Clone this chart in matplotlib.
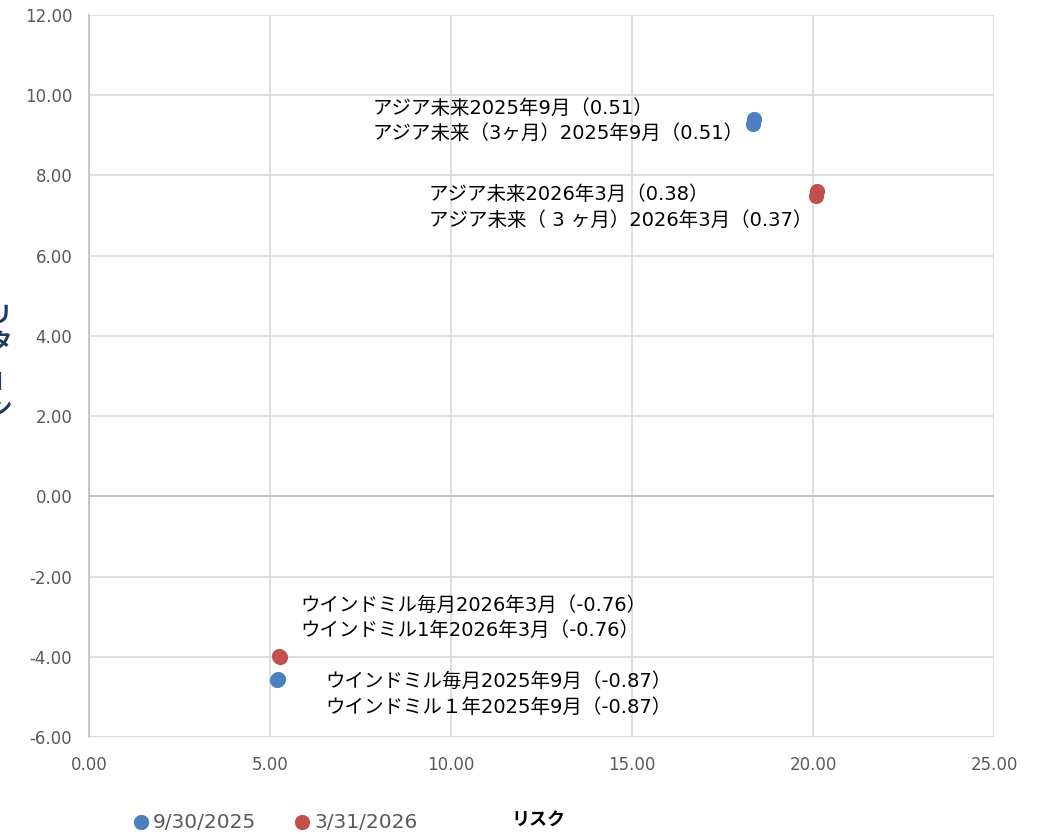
import matplotlib
matplotlib.use("Agg")
import matplotlib.pyplot as plt

plt.rcParams['font.family'] = ['DejaVu Sans', 'Noto Sans CJK JP']

# Data: (risk, return)
s1_label = "9/30/2025"
s1_risk = [18.38, 18.35, 5.20, 5.22]
s1_ret = [9.40, 9.28, -4.57, -4.55]
s2_label = "3/31/2026"
s2_risk = [20.10, 20.08, 5.25, 5.27]
s2_ret = [7.60, 7.50, -3.98, -4.00]

annot_texts = [
    "アジア未来2025年9月（0.51）\nアジア未来（3ヶ月）2025年9月（0.51）",
    "アジア未来2026年3月（0.38）\nアジア未来（ 3 ヶ月）2026年3月（0.37）",
    "ウインドミル毎月2026年3月（-0.76）\nウインドミル1年2026年3月（-0.76）",
    "ウインドミル毎月2025年9月（-0.87）\nウインドミル１年2025年9月（-0.87）",
]
annot_pos = [(7.82, 9.36), (9.39, 7.21), (5.83, -3.03), (6.52, -4.93)]

xticks = [0, 5, 10, 15, 20, 25]
yticks = [-6, -4, -2, 0, 2, 4, 6, 8, 10, 12]

blue = '#4E7FBF'
red = '#C0504D'
grid_c = '#D9D9D9'
tick_c = '#595959'

fig = plt.figure(figsize=(10.41, 8.34), dpi=100)
ax = fig.add_axes([0.0855, 0.1163, 0.8695, 0.8657])

ax.scatter(s1_risk, s1_ret, s=120, color=blue, zorder=3, linewidths=0)
ax.scatter(s2_risk, s2_ret, s=120, color=red, zorder=3, linewidths=0)

for t, (x, y) in zip(annot_texts, annot_pos):
    ax.text(x, y, t, ha='left', va='center', fontsize=14, color='black',
            linespacing=1.45, zorder=4)

ax.set_xlim(0, 25)
ax.set_ylim(-6, 12)
ax.set_xticks(xticks)
ax.set_yticks(yticks)
ax.set_xticklabels([f"{v:.2f}" for v in xticks])
ax.set_yticklabels([f"{v:.2f}" for v in yticks])
ax.tick_params(axis='both', length=0, labelsize=12, colors=tick_c, pad=12)
ax.tick_params(axis='x', pad=14)

ax.grid(True, color=grid_c, linewidth=1.2)
ax.set_axisbelow(True)
for side in ['top', 'right', 'bottom']:
    ax.spines[side].set_visible(False)
ax.spines['left'].set_color('#BFBFBF')
ax.spines['left'].set_linewidth(1.2)
ax.axhline(0, color='#BFBFBF', linewidth=1.2, zorder=1)
ax.axhline(-6, color=grid_c, linewidth=1.2, zorder=1)

# Legend at bottom
W, H = 1041, 834
fig.add_artist(plt.Line2D([141 / W], [1 - 822 / H], marker='o', markersize=10,
                          color=blue, transform=fig.transFigure, linestyle='none'))
fig.text(153 / W, 1 - 822 / H, s1_label, fontsize=14.5, color=tick_c, va='center', ha='left')
fig.add_artist(plt.Line2D([302 / W], [1 - 822 / H], marker='o', markersize=10,
                          color=red, transform=fig.transFigure, linestyle='none'))
fig.text(314 / W, 1 - 822 / H, s2_label, fontsize=14.5, color=tick_c, va='center', ha='left')
fig.text(511 / W, 1 - 821 / H, "リスク", fontsize=13, fontweight='bold', color='black',
         va='center', ha='left')

# Y-axis label (vertical, partially cut)
navy = '#1F3864'
ylab_chars = [("リ", 316, 0), ("タ", 344, 0), ("ー", 378, 90), ("ン", 409, 0)]
for ch, py, rot in ylab_chars:
    fig.text(1 / W, 1 - py / H, ch, fontsize=16, fontweight='bold', color=navy,
             ha='center', va='center', rotation=rot)

fig.savefig("out.png", dpi=100)
